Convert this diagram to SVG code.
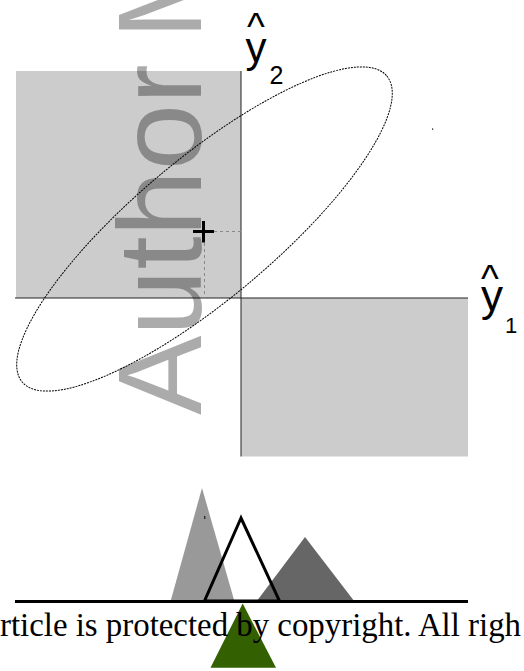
<svg xmlns="http://www.w3.org/2000/svg" width="524" height="671" viewBox="0 0 524 671">
<style>
.region{fill:#cccccc}
.axis{stroke:#222;stroke-width:1;fill:none}
.proj{stroke:#888;stroke-width:1;stroke-dasharray:3,3;fill:none}
.lbl{font-family:"Liberation Sans",Arial,sans-serif;fill:#000}
.wm{font-family:"Liberation Sans",Arial,sans-serif;font-size:119px;fill:#000;fill-opacity:0.33}
.copy{font-family:"Liberation Serif","Times New Roman",serif;font-size:33px;fill:#000}
</style>
<rect width="524" height="671" fill="#fff"/>
<g id="region-q2"><rect class="region" x="16" y="71" width="225" height="227"/></g>
<g id="region-q4"><rect class="region" x="241" y="298" width="227" height="158.5"/></g>
<g id="axes">
<line class="axis" x1="241" y1="71" x2="241" y2="456.5"/>
<line class="axis" x1="15" y1="298" x2="468" y2="298"/>
</g>
<g id="watermark"><text class="wm" transform="translate(201,415) rotate(-90)">Author<tspan dx="-8"> M</tspan></text></g>
<g id="label-y2">
<text class="lbl"><tspan x="247" y="40.2" font-size="38">^</tspan><tspan x="245.5" y="62" font-size="42">y</tspan><tspan x="269.5" y="83.5" font-size="25">2</tspan></text>
</g>
<g id="label-y1">
<text class="lbl"><tspan x="481" y="292.2" font-size="38">^</tspan><tspan x="481" y="311" font-size="44">y</tspan><tspan x="505" y="333" font-size="22">1</tspan></text>
</g>
<g id="ellipse"><ellipse cx="204.5" cy="229" rx="238" ry="70" transform="rotate(-40 204.5 229)" fill="none" stroke="#000" stroke-width="1" stroke-dasharray="2,1"/></g>
<g id="connectors">
<line class="proj" x1="214" y1="231.5" x2="241" y2="231.5"/>
<line class="proj" x1="204.5" y1="243" x2="204.5" y2="298"/>
</g>
<g id="mean">
<line x1="193" y1="231.5" x2="214" y2="231.5" stroke="#000" stroke-width="3"/>
<line x1="203.5" y1="221" x2="203.5" y2="242.5" stroke="#000" stroke-width="3"/>
</g>
<g id="dot"><rect x="432" y="128.5" width="1.2" height="1.2" fill="#000"/></g>
<g id="tri-light"><polygon points="202,488 170.5,601.5 234.5,601.5" fill="#999999"/></g>
<g id="tri-dark"><polygon points="305,537 256.5,601.5 354.5,601.5" fill="#666666"/></g>
<g id="tri-open"><polygon points="241,518 204.5,601 279.5,601" fill="none" stroke="#000" stroke-width="3" stroke-linejoin="miter"/></g>
<g id="tick"><rect x="204.3" y="516" width="1" height="3" fill="#000"/></g>
<g id="baseline"><line x1="15" y1="601.5" x2="468" y2="601.5" stroke="#000" stroke-width="3"/></g>
<g id="tri-green"><polygon points="242.7,603.5 210.5,667.7 276,667.7" fill="#336000"/></g>
<g id="copyright"><text class="copy" x="0" y="636" textLength="521" lengthAdjust="spacingAndGlyphs">rticle is protected by copyright. All righ</text></g>
</svg>
